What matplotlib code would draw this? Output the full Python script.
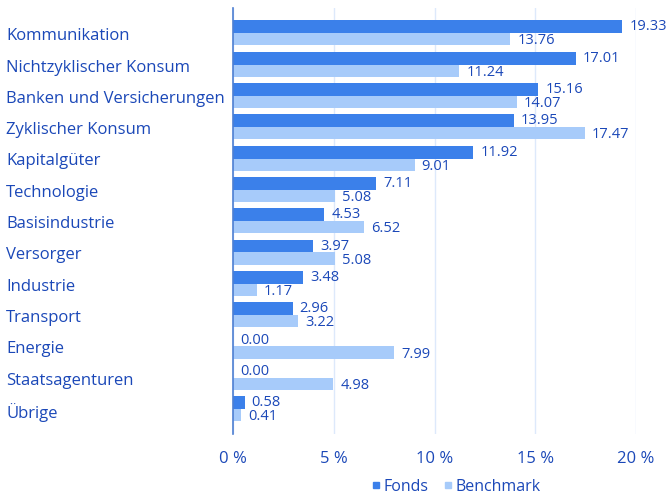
import matplotlib.pyplot as plt
import matplotlib.transforms as mtransforms
import numpy as np
from matplotlib.lines import Line2D

plt.rcParams["font.family"] = ["Open Sans", "DejaVu Sans"]

CATEGORIES = [
    "Kommunikation",
    "Nichtzyklischer Konsum",
    "Banken und Versicherungen",
    "Zyklischer Konsum",
    "Kapitalgüter",
    "Technologie",
    "Basisindustrie",
    "Versorger",
    "Industrie",
    "Transport",
    "Energie",
    "Staatsagenturen",
    "Übrige",
]
FONDS = [19.33, 17.01, 15.16, 13.95, 11.92, 7.11, 4.53, 3.97, 3.48, 2.96, 0.00, 0.00, 0.58]
BENCHMARK = [13.76, 11.24, 14.07, 17.47, 9.01, 5.08, 6.52, 5.08, 1.17, 3.22, 7.99, 4.98, 0.41]
X_TICKS = [0, 5, 10, 15, 20]

FONDS_COLOR = "#3b80ea"
BENCH_COLOR = "#a7cbfa"
TEXT_COLOR = "#1b48b8"
GRID_COLOR = "#dde9fb"
AXIS_COLOR = "#4d7fd2"

W, H = 670, 498
fig = plt.figure(figsize=(W / 100, H / 100), dpi=100)
ax = fig.add_axes([233 / W, 1 - 434 / H, (636 - 233) / W, (434 - 8) / H])

y = np.arange(len(CATEGORIES))
ax.barh(y - 0.2, FONDS, height=0.41, color=FONDS_COLOR, zorder=3)
ax.barh(y + 0.2, BENCHMARK, height=0.39, color=BENCH_COLOR, zorder=3)

for yi, v in zip(y, FONDS):
    ax.text(v + 0.35, yi - 0.2, f"{v:.2f}", va="center", ha="left",
            fontsize=10.5, color=TEXT_COLOR, clip_on=False)
for yi, v in zip(y, BENCHMARK):
    ax.text(v + 0.35, yi + 0.25, f"{v:.2f}", va="center", ha="left",
            fontsize=10.5, color=TEXT_COLOR, clip_on=False)

label_trans = mtransforms.blended_transform_factory(fig.transFigure, ax.transData)
for yi, name in zip(y, CATEGORIES):
    ax.text(6 / W, yi + 0.1, name, transform=label_trans,
            va="center", ha="left", fontsize=12, color=TEXT_COLOR)

ax.set_xlim(0, 20)
ax.set_ylim(12.8, -0.8)
ax.set_yticks([])
ax.set_xticks(X_TICKS)
ax.set_xticklabels([f"{t} %" for t in X_TICKS], fontsize=12, color=TEXT_COLOR)
ax.tick_params(axis="x", length=0, pad=12)
ax.grid(True, axis="x", color=GRID_COLOR, linewidth=1, zorder=0)
for side in ["top", "right", "bottom"]:
    ax.spines[side].set_visible(False)
ax.spines["left"].set_color(AXIS_COLOR)
ax.spines["left"].set_linewidth(1.2)
ax.spines["left"].set_zorder(4)

handles = [
    Line2D([0], [0], marker="s", linestyle="none", color=FONDS_COLOR, markersize=5, label="Fonds"),
    Line2D([0], [0], marker="s", linestyle="none", color=BENCH_COLOR, markersize=5, label="Benchmark"),
]
fig.legend(handles=handles, loc="center", bbox_to_anchor=(455 / W, 1 - 487 / H), ncol=2,
           frameon=False, fontsize=11.5, handletextpad=0.1, columnspacing=0.8,
           labelcolor=TEXT_COLOR, handlelength=0.8)

fig.savefig("out.png", dpi=100)
